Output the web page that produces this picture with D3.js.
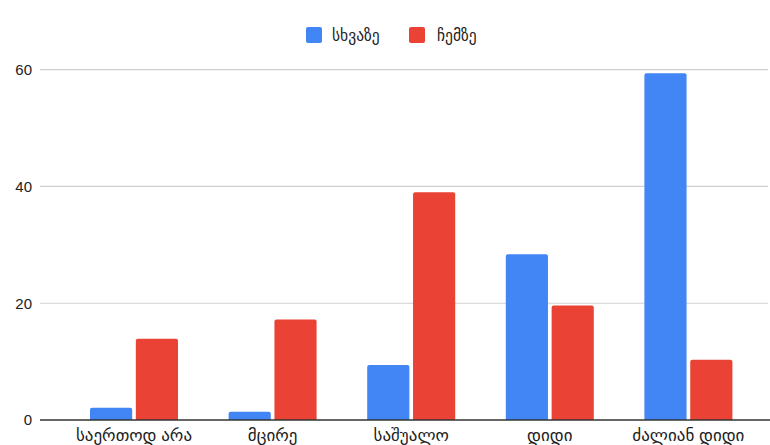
<!DOCTYPE html>
<html>
<head>
<meta charset="utf-8">
<script src="https://cdn.jsdelivr.net/npm/d3@7/dist/d3.min.js"></script>
<style>
  html, body { margin: 0; padding: 0; background: #fff; }
  svg { display: block; font-family: "Liberation Sans", Arial, "DejaVu Sans", sans-serif; }
</style>
</head>
<body>
<svg id="chart" width="770" height="445"></svg>
<script>
// Answer categories (x axis)
const categories = ["საერთოდ არა", "მცირე", "საშუალო", "დიდი", "ძალიან დიდი"];
// Series names and colours
const seriesNames = ["სხვაზე", "ჩემზე"];
const seriesColors = ["#4285f4", "#ea4335"];
// Percent of respondents per category
const valuesOther = [2.1, 1.4, 9.4, 28.4, 59.4];
const valuesMine = [13.9, 17.2, 39.0, 19.6, 10.3];
// Y axis ticks
const yTicks = [0, 20, 40, 60];

const svg = d3.select("#chart");
const plot = { left: 40, right: 770, top: 69.7, bottom: 420 };

const y = d3.scaleLinear().domain([0, 60]).range([plot.bottom, plot.top]);
const x0 = d3.scaleBand().domain(categories).range([64.7, 757.7]).padding(0);
const x1 = d3.scaleBand().domain(seriesNames).range([25.3, 113.3]).paddingInner(0.08);

// Gridlines
svg.append("g")
  .selectAll("line")
  .data(yTicks.filter(t => t !== 0))
  .join("line")
  .attr("x1", plot.left).attr("x2", plot.right - 2)
  .attr("y1", d => y(d)).attr("y2", d => y(d))
  .attr("stroke", "#d0d0d0").attr("stroke-width", 1.2);

// Y tick labels
svg.append("g")
  .selectAll("text")
  .data(yTicks)
  .join("text")
  .attr("x", 32).attr("y", d => y(d))
  .attr("dy", "0.36em")
  .attr("text-anchor", "end")
  .attr("font-size", 15)
  .attr("fill", "#222")
  .text(d => d);

// Bars with slightly rounded tops
const rows = categories.map((c, i) => ({ cat: c, vals: [valuesOther[i], valuesMine[i]] }));
const r = 2;
function barPath(x, w, yTop, yBase) {
  const rr = Math.min(r, (yBase - yTop));
  return `M${x},${yBase}V${yTop + rr}Q${x},${yTop} ${x + rr},${yTop}H${x + w - rr}Q${x + w},${yTop} ${x + w},${yTop + rr}V${yBase}Z`;
}
const groups = svg.append("g")
  .selectAll("g")
  .data(rows)
  .join("g")
  .attr("transform", d => `translate(${x0(d.cat)},0)`);
groups.selectAll("path")
  .data(d => d.vals.map((v, k) => ({ name: seriesNames[k], v, k })))
  .join("path")
  .attr("d", d => barPath(x1(d.name), x1.bandwidth(), y(d.v), y(0)))
  .attr("fill", d => seriesColors[d.k]);

// Baseline
svg.append("line")
  .attr("x1", plot.left).attr("x2", plot.right)
  .attr("y1", y(0)).attr("y2", y(0))
  .attr("stroke", "#333").attr("stroke-width", 1.6);

// X axis labels
svg.append("g")
  .selectAll("text")
  .data(categories)
  .join("text")
  .attr("x", d => x0(d) + x0.bandwidth() / 2)
  .attr("y", 441)
  .attr("text-anchor", "middle")
  .attr("font-size", 17)
  .attr("fill", "#222")
  .text(d => d);

// Legend
const legendItems = [
  { name: seriesNames[0], color: seriesColors[0], sx: 306, tx: 332 },
  { name: seriesNames[1], color: seriesColors[1], sx: 409, tx: 437 }
];
const lg = svg.append("g");
lg.selectAll("rect")
  .data(legendItems)
  .join("rect")
  .attr("x", d => d.sx).attr("y", 27)
  .attr("width", 16).attr("height", 16)
  .attr("rx", 2)
  .attr("fill", d => d.color);
lg.selectAll("text")
  .data(legendItems)
  .join("text")
  .attr("x", d => d.tx).attr("y", 35)
  .attr("dy", "0.36em")
  .attr("font-size", 15.5)
  .attr("fill", "#222")
  .text(d => d.name);
</script>
</body>
</html>
